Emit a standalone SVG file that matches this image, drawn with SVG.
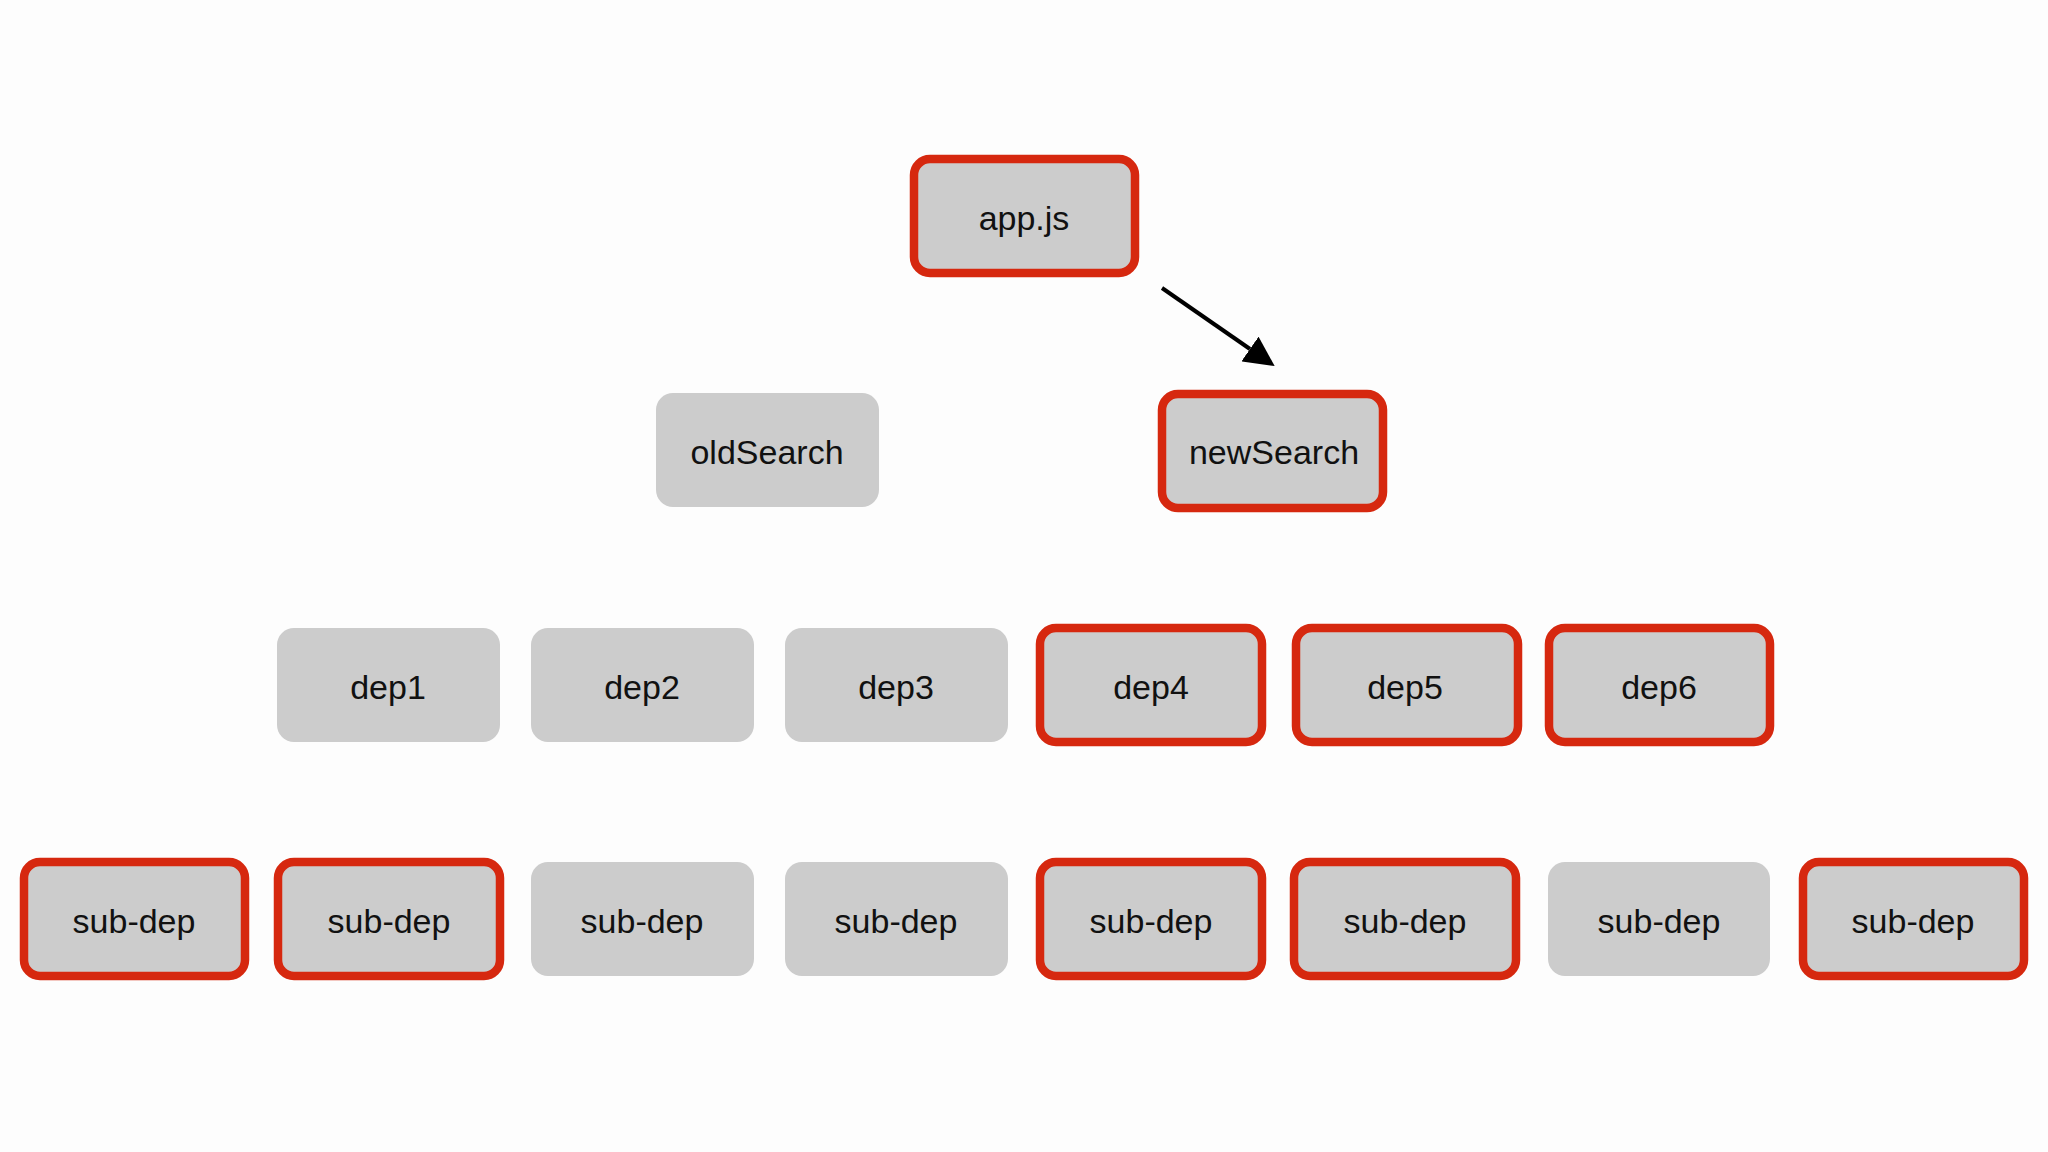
<svg xmlns="http://www.w3.org/2000/svg" width="2048" height="1152" viewBox="0 0 2048 1152">
  <style>
    .box { fill: #cccccc; }
    .red { fill: #cccccc; stroke: #d6280f; stroke-width: 8.5; }
    .lbl { font-family: "Liberation Sans", Arial, sans-serif; font-size: 34px; fill: #111111; text-anchor: middle; }
    .edge { stroke: #000000; stroke-width: 4; fill: none; }
  </style>
  <defs>
    <marker id="arrow" markerUnits="userSpaceOnUse" markerWidth="30" markerHeight="30" viewBox="0 0 28 28" refX="0" refY="14" orient="auto">
      <path d="M0,0 L28,14 L0,28 Z" fill="#000000"/>
    </marker>
  </defs>
  <rect width="2048" height="1152" fill="#fdfdfd"/>

  <g id="connectors">
    <line class="edge" x1="1162" y1="288" x2="1250" y2="349" marker-end="url(#arrow)"/>
  </g>

  <g id="app-js">
    <rect class="red" x="914" y="159" width="221" height="114" rx="16"/>
    <text class="lbl" x="1024" y="230">app.js</text>
  </g>
  <g id="oldSearch">
    <rect class="box" x="656" y="393" width="223" height="114" rx="17"/>
    <text class="lbl" x="767" y="464">oldSearch</text>
  </g>
  <g id="newSearch">
    <rect class="red" x="1162" y="394" width="221" height="114" rx="16"/>
    <text class="lbl" x="1274" y="464">newSearch</text>
  </g>

  <g id="dep1">
    <rect class="box" x="277" y="628" width="223" height="114" rx="17"/>
    <text class="lbl" x="388" y="699">dep1</text>
  </g>
  <g id="dep2">
    <rect class="box" x="531" y="628" width="223" height="114" rx="17"/>
    <text class="lbl" x="642" y="699">dep2</text>
  </g>
  <g id="dep3">
    <rect class="box" x="785" y="628" width="223" height="114" rx="17"/>
    <text class="lbl" x="896" y="699">dep3</text>
  </g>
  <g id="dep4">
    <rect class="red" x="1040" y="628" width="222" height="114" rx="16"/>
    <text class="lbl" x="1151" y="699">dep4</text>
  </g>
  <g id="dep5">
    <rect class="red" x="1296" y="628" width="222" height="114" rx="16"/>
    <text class="lbl" x="1405" y="699">dep5</text>
  </g>
  <g id="dep6">
    <rect class="red" x="1549" y="628" width="221" height="114" rx="16"/>
    <text class="lbl" x="1659" y="699">dep6</text>
  </g>

  <g id="sub-dep-1">
    <rect class="red" x="24" y="862" width="221" height="114" rx="16"/>
    <text class="lbl" x="134" y="933">sub-dep</text>
  </g>
  <g id="sub-dep-2">
    <rect class="red" x="278" y="862" width="222" height="114" rx="16"/>
    <text class="lbl" x="389" y="933">sub-dep</text>
  </g>
  <g id="sub-dep-3">
    <rect class="box" x="531" y="862" width="223" height="114" rx="17"/>
    <text class="lbl" x="642" y="933">sub-dep</text>
  </g>
  <g id="sub-dep-4">
    <rect class="box" x="785" y="862" width="223" height="114" rx="17"/>
    <text class="lbl" x="896" y="933">sub-dep</text>
  </g>
  <g id="sub-dep-5">
    <rect class="red" x="1040" y="862" width="222" height="114" rx="16"/>
    <text class="lbl" x="1151" y="933">sub-dep</text>
  </g>
  <g id="sub-dep-6">
    <rect class="red" x="1294" y="862" width="222" height="114" rx="16"/>
    <text class="lbl" x="1405" y="933">sub-dep</text>
  </g>
  <g id="sub-dep-7">
    <rect class="box" x="1548" y="862" width="222" height="114" rx="17"/>
    <text class="lbl" x="1659" y="933">sub-dep</text>
  </g>
  <g id="sub-dep-8">
    <rect class="red" x="1803" y="862" width="221" height="114" rx="16"/>
    <text class="lbl" x="1913" y="933">sub-dep</text>
  </g>
</svg>
